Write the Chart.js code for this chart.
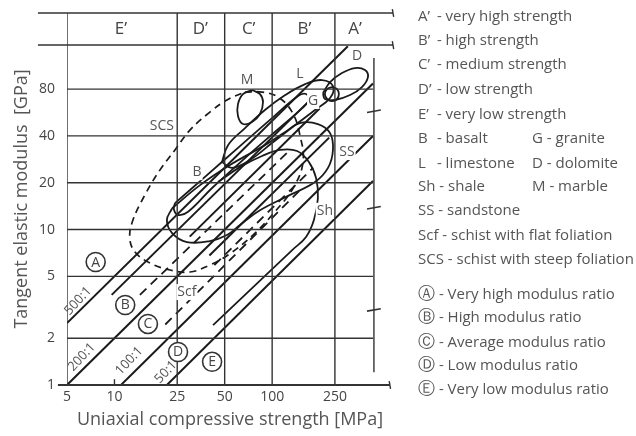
<!DOCTYPE html>
<html><head><meta charset="utf-8">
<script src="https://cdn.jsdelivr.net/npm/chart.js@4.4.1/dist/chart.umd.min.js"></script>
<style>
html,body{margin:0;padding:0;background:#fff;}
#wrap{position:relative;width:636px;height:436px;overflow:hidden;}
#c{position:absolute;left:0;top:0;}
.lg{position:absolute;left:418px;font-family:"Open Sans",sans-serif;font-size:15px;color:#555;white-space:pre;line-height:18px;}
.lg .k{display:inline-block;min-width:15px;}
.lg .k.circ{font-size:17px;line-height:18px;}
.lg2{left:532px;}
</style></head><body>
<div id="wrap"><canvas id="c" width="636" height="436"></canvas><div id="legend"></div></div>
<script>
// ---------- axes ----------
const xTicks = [5, 10, 25, 50, 100, 250];            // UCS [MPa]
const yTicks = [1, 2, 5, 10, 20, 40, 80];            // E [GPa]
const modulusGrid = [2, 5, 10, 20, 40, 80];          // horizontal grid lines
const strengthGrid = [25, 50, 100, 250];             // strength class borders
const xRange = [5, 584];
const yRange = [1, 247];
const gridEndUCS = 436;
const classRowBottomE = 153.6;
const frameStartUCS = 3.27;
const axisEndUCS = 558;
const scaleBarUCS = 442;
const scaleBarE = [1.21, 126.7];
const scaleBreaksE = [57.6, 13.8, 3.04];

// ---------- strength classes (top row) ----------
const strengthClasses = ["E’", "D’", "C’", "B’", "A’"];
const strengthClassUCS = [11, 35, 71, 160, 335];
const strengthClassRowE = 195;

// ---------- modulus ratio lines ----------
const ratio500 = [[5, 2.5], [302, 151]];
const ratio200 = [[5, 1], [436, 87]];
const ratio100 = [[11, 1], [436, 40]];
const ratio50 = [[21.5, 1], [436, 20.5]];
const ratioLabels = ["500:1", "200:1", "100:1", "50:1"];
const ratioLabelAt = [[5.87, 3.47], [6.2, 1.51], [12.4, 1.43], [21.2, 1.21]];

// ---------- modulus ratio classes ----------
const modulusClasses = ["A", "B", "C", "D", "E"];
const modulusClassAt = [[7.6, 6.18], [11.7, 3.27], [16.3, 2.47], [25.3, 1.63], [41.6, 1.41]];

// ---------- rock envelopes ----------
const bandLine1 = [[9.6, 3.8], [174, 68]];
const bandLine2 = [[30, 9], [200, 60]];
const bandLine3 = [[40, 6.8], [230, 39]];
const scfUpper = [[14.5, 3.8], [130, 32.5]];
const scfLower = [[21, 2.45], [150, 17.9]];
const scfMid = [[43, 5.9], [182, 25]];
const scsOutline = [[67.3,76.6],[86.2,76.6],[109,71.1],[134,56.9],[150,40.5],[157,27.2],[136,18.5],[104,13.0],[75.6,9.22],[52.5,6.86],[40.3,5.91],[30.1,5.33],[22.5,5.49],[16.8,6.09],[13.5,7.17],[12.5,8.82],[13.1,11.5],[15.6,16.7],[19.4,24.1],[24.2,32.5],[30.1,43.6],[40.3,56.9],[51.7,68.1],[67.3,76.6]];
const marbleOutline = [[74.5,78.9],[83.7,74.4],[87.5,66.1],[83.7,55.3],[74.5,49.1],[65.3,47.7],[60.7,53.7],[60.7,64.1],[65.3,74.4],[74.5,78.9]];
const dolomiteOutline = [[210,75.5],[233,88.8],[277,101.5],[335,109.3],[388,106.1],[405,95.6],[371,82.5],[312,73.3],[250,68.1],[216,69.1],[210,75.5]];
const graniteOutline = [[240,82.5],[258,80.1],[265,74.4],[258,69.1],[240,67.1],[223,69.1],[216,74.4],[223,80.1],[240,82.5]];
const limestoneOutline = [[48.1,27.2],[52.5,34.9],[67.3,44.9],[90,58.7],[121,73.3],[162,86.2],[207,91.5],[243,83.7],[233,70.1],[187,58.7],[140,47.0],[99.8,36.0],[72.3,28.0],[55.6,24.9],[48.1,27.2]];
const basaltOutline = [[24.2,14.8],[37.5,21.8],[62.5,34.4],[99.8,52.1],[146,72.2],[164,74.4],[171,68.1],[155,60.4],[104,42.4],[67.3,28.8],[41.6,18.5],[29.3,13.0],[25.3,12.4],[23.8,13.5],[24.2,14.8]];
const sandstoneOutline = [[23.2,13.7],[34.9,19.3],[54.0,26.0],[90.0,34.9],[121,42.4],[150,48.4],[195,47.7],[233,41.7],[243,32.5],[226,24.9],[187,20.2],[130,16.7],[83.7,13.3],[62.5,10.7],[51.7,9.22],[40.3,8.43],[28.8,8.31],[23.2,9.49],[21.5,11.5],[23.2,13.7]];
const shalePath = [[42.2,2.43],[134,7.38],[164,8.95],[184,11.5],[195,15.9],[190,21.4],[171,27.2],[144,32.0],[112,32.5],[86.2,29.7],[62.5,25.2],[45.3,20.2]];

const rockCodes = ["SCS", "M", "L", "D", "G", "B", "SS", "Sh", "Scf"];
const rockLabelAt = [[20.0,46.3],[69.3,91.5],[150,100],[345,130.6],[182,67.1],[33.4,23.4],[298,31.5],[216,13.2],[28.8,3.96]];

// ---------- legend ----------
const legendRows = [
  ["A’", " - very high strength"],
  ["B’", " - high strength"],
  ["C’", " - medium strength"],
  ["D’", " - low strength"],
  ["E’", " - very low strength"],
  ["B", " - basalt", "G - granite"],
  ["L", " - limestone", "D - dolomite"],
  ["Sh", " - shale", "M - marble"],
  ["SS", " - sandstone"],
  ["Scf", " - schist with flat foliation"],
  ["SCS", " - schist with steep foliation"],
  ["Ⓐ", " - Very high modulus ratio"],
  ["Ⓑ", " - High modulus ratio"],
  ["Ⓒ", " - Average modulus ratio"],
  ["Ⓓ", " - Low modulus ratio"],
  ["Ⓔ", " - Very low modulus ratio"]
];
const legendRowY = [15,39,63,88,113,137,162,185,209,234,258,293,316,341,364,388];

const legend = document.getElementById('legend');
legendRows.forEach((r, i) => {
  const d = document.createElement('div');
  d.className = 'lg';
  d.style.top = (legendRowY[i] - 9) + 'px';
  const k = document.createElement('span');
  k.className = /^[\u24B6-\u24BA]$/.test(r[0]) ? 'k circ' : 'k';
  k.textContent = r[0];
  d.appendChild(k);
  d.appendChild(document.createTextNode(r[1]));
  legend.appendChild(d);
  if (r[2]) {
    const d2 = document.createElement('div');
    d2.className = 'lg lg2';
    d2.style.top = (legendRowY[i] - 9) + 'px';
    d2.textContent = r[2];
    legend.appendChild(d2);
  }
});

// ---------- datasets ----------
const pts = a => a.map(p => ({x: p[0], y: p[1]}));
function ds(points, opt) {
  return Object.assign({data: pts(points), showLine: true, pointRadius: 0, borderColor: '#1a1a1a',
    borderWidth: 2, tension: 0, fill: false}, opt || {});
}
const gridStyle = {borderColor: '#333', borderWidth: 1.4};
const datasets = [];
modulusGrid.forEach(e => datasets.push(ds([[xRange[0], e], [gridEndUCS, e]], gridStyle)));
strengthGrid.forEach(u => datasets.push(ds([[u, yRange[0]], [u, yRange[1]]], gridStyle)));
datasets.push(ds([[xRange[0], yRange[0]], [xRange[0], yRange[1]]], gridStyle));
datasets.push(ds([[frameStartUCS, yRange[1]], [xRange[1], yRange[1]]], Object.assign({clip: false}, gridStyle)));
datasets.push(ds([[frameStartUCS, classRowBottomE], [xRange[1], classRowBottomE]], Object.assign({clip: false}, gridStyle)));
datasets.push(ds([[4.38, 1], [axisEndUCS, 1]], Object.assign({clip: false}, gridStyle, {borderWidth: 2})));
datasets.push(ds([[10, 1], [10, 1.09]], gridStyle));
datasets.push(ds([[scaleBarUCS, scaleBarE[0]], [scaleBarUCS, scaleBarE[1]]], gridStyle));
datasets.push({data: pts(scaleBreaksE.map(e => [scaleBarUCS, e])), showLine: false, pointStyle: 'line',
  pointRadius: 7, pointBorderWidth: 1.6, pointBorderColor: '#333', pointRotation: -10});
datasets.push({data: pts([[xRange[1], yRange[1]], [xRange[1], classRowBottomE], [axisEndUCS, 1]]), showLine: false,
  pointStyle: 'line', pointRadius: 4, pointBorderWidth: 1.4, pointBorderColor: '#333', pointRotation: 80, clip: false});

[ratio500, ratio200, ratio100, ratio50, bandLine1, bandLine2, bandLine3].forEach(l => datasets.push(ds(l)));
[scfUpper, scfLower, scfMid].forEach(l => datasets.push(ds(l, {borderDash: [9, 6], borderWidth: 1.8})));
datasets.push(ds(scsOutline, {borderDash: [7, 5], tension: 0.4, borderWidth: 1.7}));
[marbleOutline, dolomiteOutline, graniteOutline, limestoneOutline, basaltOutline, sandstoneOutline]
  .forEach(o => datasets.push(ds(o, {tension: 0.4, borderWidth: 1.8})));
datasets.push(ds(shalePath, {tension: 0.4, borderWidth: 1.8}));

const FONT = '"Open Sans", sans-serif';
const labelPlugin = {
  id: 'labels',
  afterDatasetsDraw(chart) {
    const {ctx, scales: {x, y}} = chart;
    ctx.save();
    ctx.textAlign = 'center'; ctx.textBaseline = 'middle';
    ctx.fillStyle = '#444';
    ctx.font = '17px ' + FONT;
    strengthClasses.forEach((t, i) => ctx.fillText(t, x.getPixelForValue(strengthClassUCS[i]), y.getPixelForValue(strengthClassRowE)));
    ctx.font = '14px ' + FONT;
    rockCodes.forEach((t, i) => {
      const px = x.getPixelForValue(rockLabelAt[i][0]), py = y.getPixelForValue(rockLabelAt[i][1]);
      const w = ctx.measureText(t).width;
      ctx.fillStyle = '#fff'; ctx.fillRect(px - w / 2 - 1, py - 8, w + 2, 16);
      ctx.fillStyle = '#555'; ctx.fillText(t, px, py);
    });
    modulusClasses.forEach((t, i) => {
      const px = x.getPixelForValue(modulusClassAt[i][0]), py = y.getPixelForValue(modulusClassAt[i][1]);
      ctx.beginPath(); ctx.arc(px, py, 9.5, 0, Math.PI * 2);
      ctx.fillStyle = '#fff'; ctx.fill();
      ctx.lineWidth = 1.6; ctx.strokeStyle = '#333'; ctx.stroke();
      ctx.fillStyle = '#444'; ctx.font = '14px ' + FONT; ctx.fillText(t, px, py + 0.5);
    });
    ctx.font = '13px ' + FONT;
    ratioLabels.forEach((t, i) => {
      const px = x.getPixelForValue(ratioLabelAt[i][0]), py = y.getPixelForValue(ratioLabelAt[i][1]);
      ctx.save(); ctx.translate(px, py); ctx.rotate(-47 * Math.PI / 180);
      ctx.fillStyle = '#555'; ctx.fillText(t, 0, 0); ctx.restore();
    });
    ctx.restore();
  }
};

new Chart(document.getElementById('c'), {
  type: 'scatter',
  data: {datasets},
  plugins: [labelPlugin],
  options: {
    responsive: false, animation: false, events: [],
    layout: {padding: {top: 13, right: 243, left: 0, bottom: 0}},
    plugins: {legend: {display: false}, tooltip: {enabled: false}},
    font: {family: FONT},
    scales: {
      x: {
        type: 'logarithmic', min: xRange[0], max: xRange[1], bounds: 'data',
        border: {display: false}, grid: {display: false, drawTicks: false},
        afterBuildTicks: s => { s.ticks = xTicks.map(v => ({value: v})); },
        afterFit: s => { s.height = 51; s.paddingLeft = 0; s.paddingRight = 0; },
        ticks: {autoSkip: false, maxRotation: 0, padding: 4, color: '#444', font: {family: FONT, size: 14},
          callback: v => String(v)},
        title: {display: true, text: 'Uniaxial compressive strength [MPa]', color: '#555',
          font: {family: FONT, size: 18}, padding: {top: 0, bottom: 5}}
      },
      y: {
        type: 'logarithmic', min: yRange[0], max: yRange[1], bounds: 'data',
        border: {display: false}, grid: {display: false, drawTicks: false},
        afterBuildTicks: s => { s.ticks = yTicks.map(v => ({value: v})); },
        afterFit: s => { s.width = 67; s.paddingTop = 0; s.paddingBottom = 0; },
        ticks: {autoSkip: false, padding: 12, color: '#444', font: {family: FONT, size: 14},
          callback: v => String(v)},
        title: {display: true, text: 'Tangent elastic modulus  [GPa]', color: '#555',
          font: {family: FONT, size: 18}, padding: {top: 11, bottom: 0}}
      }
    }
  }
});
</script>
</body></html>
